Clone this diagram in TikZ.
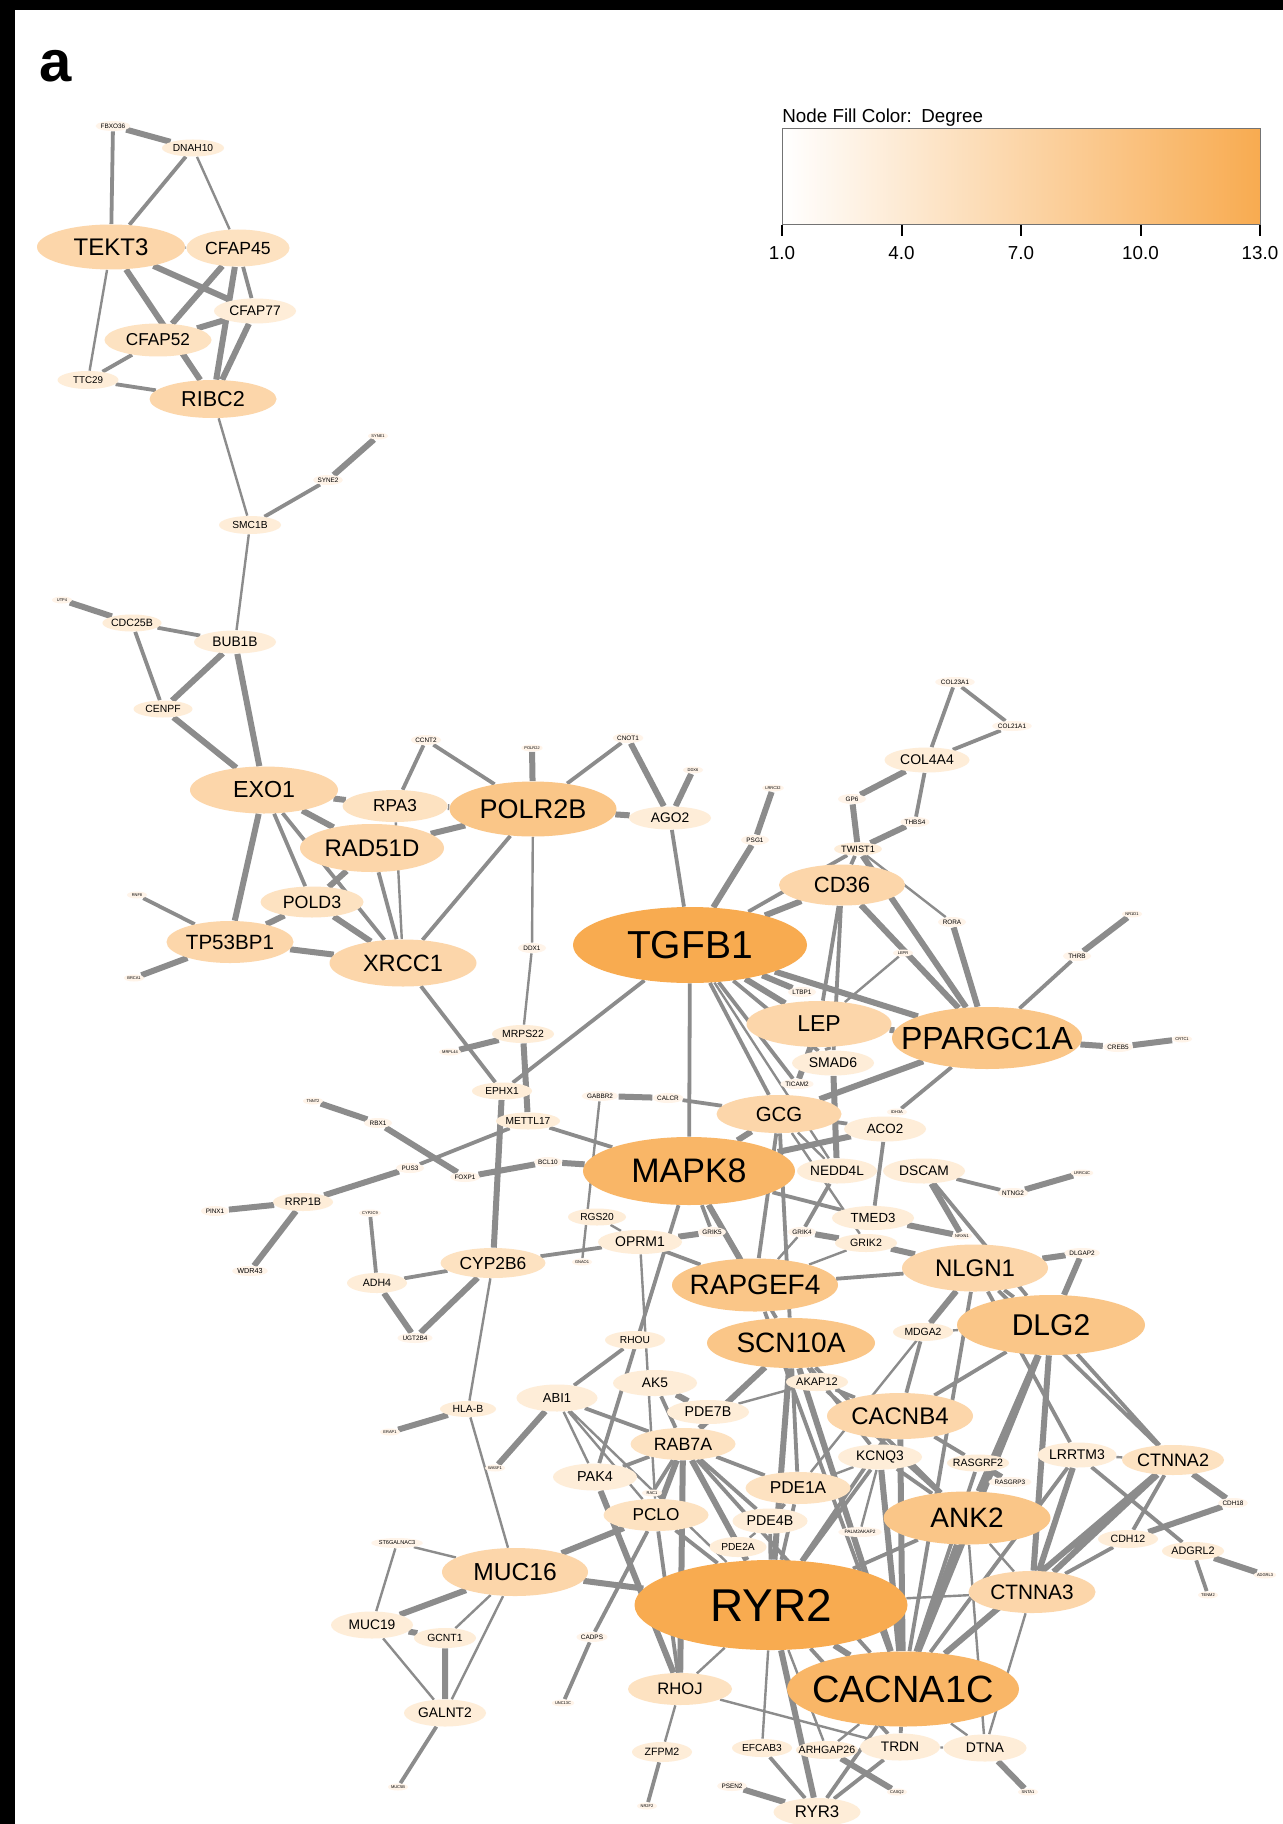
\documentclass[tikz,border=0pt]{standalone}
\usepackage{fontspec}
\setmainfont{Liberation Sans}
\usepackage{xcolor}
\usepackage{tikz}
\usetikzlibrary{shapes.geometric,backgrounds,calc}
\definecolor{naranja}{HTML}{F8AB50}
\definecolor{crema}{HTML}{FFFAF4}
\definecolor{gris}{HTML}{8C8C8C}
\colorlet{gradoA}{naranja}
\colorlet{gradoAB}{naranja!86!crema}
\colorlet{gradoB}{naranja!66!crema}
\colorlet{gradoC}{naranja!45!crema}
\colorlet{gradoD}{naranja!31!crema}
\colorlet{gradoE}{naranja!17!crema}
\colorlet{gradoF}{naranja!7!crema}
\newcommand{\tam}[1]{\fontsize{#1}{#1}\selectfont}
\tikzset{
  gen/.style={ellipse,inner sep=0pt,text=black},
  genA/.style={gen,fill=gradoA},
  genAB/.style={gen,fill=gradoAB},
  genB/.style={gen,fill=gradoB},
  genC/.style={gen,fill=gradoC},
  genD/.style={gen,fill=gradoD},
  genE/.style={gen,fill=gradoE},
  genmin/.style={gen,fill=gradoF,minimum width=14pt,minimum height=5pt,font=\tam{3.2}},
  genmicro/.style={gen,fill=gradoF,minimum width=10pt,minimum height=3.5pt,font=\tam{2}},
  arista1/.style={draw=gris,line width=1.2pt},
  arista2/.style={draw=gris,line width=1.9pt},
  arista3/.style={draw=gris,line width=3pt},
}

\begin{document}
\begin{tikzpicture}[x=0.5pt,y=-0.5pt]
  \useasboundingbox (0,0) rectangle (1283,1824);
  \node[font=\bfseries\tam{29},anchor=base] (panel) at (56,82) {a};
  % leyenda de grado
  \node[font=\tam{9.4},anchor=base west,inner sep=0pt] (titulo) at (782,123) {Node Fill Color:\enspace Degree};
  \node[draw=black!55,line width=0.7pt,left color=white,right color=naranja,minimum width=239pt,minimum height=48pt,inner sep=0pt,anchor=north west] (barra) at (782,128) {};
  \foreach \i/\v in {0/1.0,1/4.0,2/7.0,3/10.0,4/13.0}
    \draw[line width=1pt] ($(barra.south west)+(\i*119.5,0)$) -- ++(0,11)
      node[anchor=north,font=\tam{9.4},inner sep=0pt,yshift=-4.5pt] (marca\i) {\v};

  % cilios
  \node[genmin] (fbxo36) at (113,126) {FBXO36};
  \node[genE,minimum width=31pt,minimum height=8.5pt,font=\tam{5.1}] (dnah10) at (193,148) {DNAH10};
  \node[genC,minimum width=74pt,minimum height=22.5pt,font=\tam{12}] (tekt3) at (111,247) {TEKT3};
  \node[genD,minimum width=51.5pt,minimum height=18.5pt,font=\tam{8.8}] (cfap45) at (238,248) {CFAP45};
  \node[genE,minimum width=41pt,minimum height=12.5pt,font=\tam{6.9}] (cfap77) at (255,311) {CFAP77};
  \node[genD,minimum width=53.5pt,minimum height=16.5pt,font=\tam{8.6}] (cfap52) at (158,340) {CFAP52};
  \node[genE,minimum width=30.5pt,minimum height=9pt,font=\tam{4.9}] (ttc29) at (88,380) {TTC29};
  \node[genC,minimum width=63.5pt,minimum height=19pt,font=\tam{10.8}] (ribc2) at (213,399) {RIBC2};
  \node[genmicro] (syne1) at (378,436) {SYNE1};
  \node[genmin] (syne2) at (328,480) {SYNE2};
  \node[genE,minimum width=31pt,minimum height=9pt,font=\tam{5.1}] (smc1b) at (250,525) {SMC1B};
  \node[genmicro] (utp4) at (62,600) {UTP4};
  \node[genE,minimum width=29pt,minimum height=8.5pt,font=\tam{5.3}] (cdc25b) at (132,623) {CDC25B};
  \node[genE,minimum width=41pt,minimum height=11.5pt,font=\tam{6.9}] (bub1b) at (235,642) {BUB1B};
  \node[genE,minimum width=29.5pt,minimum height=8.5pt,font=\tam{5.2}] (cenpf) at (163,709) {CENPF};

  % reparacion del ADN
  \node[genC,minimum width=74pt,minimum height=23.5pt,font=\tam{11.6}] (exo1) at (264,790) {EXO1};
  \node[genmin] (ccnt2) at (426,740) {CCNT2};
  \node[genD,minimum width=52.5pt,minimum height=16pt,font=\tam{8.6}] (rpa3) at (395,806) {RPA3};
  \node[genC,minimum width=72pt,minimum height=24pt,font=\tam{12}] (rad51d) at (372,848) {RAD51D};
  \node[genmicro] (polr2j) at (532,748) {POLR2J};
  \node[genB,minimum width=83.5pt,minimum height=27.5pt,font=\tam{13.5}] (polr2b) at (533,809) {POLR2B};
  \node[genmin] (cnot1) at (628,738) {CNOT1};
  \node[genmicro] (ddx6) at (693,770) {DDX6};
  \node[genE,minimum width=41pt,minimum height=11.5pt,font=\tam{6.9}] (ago2) at (670,818) {AGO2};
  \node[genD,minimum width=51.5pt,minimum height=15.5pt,font=\tam{8.9}] (pold3) at (312,902) {POLD3};
  \node[genmicro] (rnf8) at (137,895) {RNF8};
  \node[genC,minimum width=63.5pt,minimum height=21pt,font=\tam{10.3}] (tp53bp1) at (230,942) {TP53BP1};
  \node[genmicro] (brca1) at (134,978) {BRCA1};
  \node[genC,minimum width=73.5pt,minimum height=23.5pt,font=\tam{11.8}] (xrcc1) at (403,963) {XRCC1};
  \node[genmin] (ddx1) at (532,948) {DDX1};
  \node[genE,minimum width=31pt,minimum height=9pt,font=\tam{5.2}] (mrps22) at (523,1034) {MRPS22};
  \node[genmicro] (mrpl44) at (450,1052) {MRPL44};

  % TGFB1 y PPARGC1A
  \node[genA,minimum width=117pt,minimum height=38pt,font=\tam{19.5}] (tgfb1) at (690,945) {TGFB1};
  \node[genmicro] (lrrc32) at (773,788) {LRRC32};
  \node[genmin] (psg1) at (755,840) {PSG1};
  \node[genmin] (gp6) at (852,799) {GP6};
  \node[genE,minimum width=22pt,minimum height=6.5pt,font=\tam{4.6}] (twist1) at (858,849) {TWIST1};
  \node[genC,minimum width=63pt,minimum height=20.5pt,font=\tam{11}] (cd36) at (842,885) {CD36};
  \node[genmin] (col23a1) at (955,682) {COL23A1};
  \node[genmin] (col21a1) at (1012,726) {COL21A1};
  \node[genE,minimum width=42.5pt,minimum height=12.5pt,font=\tam{7}] (col4a4) at (927,760) {COL4A4};
  \node[genmin] (thbs4) at (915,822) {THBS4};
  \node[genmin] (rora) at (952,922) {RORA};
  \node[genmin] (thrb) at (1077,956) {THRB};
  \node[genmicro] (nr1d1) at (1132,914) {NR1D1};
  \node[genmin] (ltbp1) at (802,992) {LTBP1};
  \node[genC,minimum width=72.5pt,minimum height=23pt,font=\tam{11.5}] (lep) at (819,1024) {LEP};
  \node[genB,minimum width=95pt,minimum height=31pt,font=\tam{16}] (ppargc1a) at (987,1038) {\makebox[0pt]{PPARGC1A}};
  \node[genmin] (creb5) at (1118,1047) {CREB5};
  \node[genmicro] (crtc1) at (1182,1039) {CRTC1};
  \node[genmicro] (lepr) at (903,953) {LEPR};
  \node[genE,minimum width=41pt,minimum height=12.5pt,font=\tam{7}] (smad6) at (833,1063) {SMAD6};
  \node[genmin] (ticam2) at (797,1084) {TICAM2};

  % MAPK8 y vecinos
  \node[genE,minimum width=30pt,minimum height=8.5pt,font=\tam{5.1}] (ephx1) at (502,1091) {EPHX1};
  \node[genE,minimum width=32pt,minimum height=8.5pt,font=\tam{5.1}] (mettl17) at (528,1121) {\makebox[0pt]{METTL17}};
  \node[genmin] (gabbr2) at (600,1096) {GABBR2};
  \node[genmin] (calcr) at (668,1098) {CALCR};
  \node[genC,minimum width=62.5pt,minimum height=19pt,font=\tam{10.2}] (gcg) at (779,1114) {GCG};
  \node[genmicro] (idh3a) at (897,1112) {IDH3A};
  \node[genE,minimum width=41pt,minimum height=12.5pt,font=\tam{6.7}] (aco2) at (885,1129) {ACO2};
  \node[genmicro] (tnnt2) at (313,1101) {TNNT2};
  \node[genmin] (rbx1) at (378,1123) {RBX1};
  \node[genmin] (pus3) at (410,1168) {PUS3};
  \node[genmin] (foxp1) at (465,1177) {FOXP1};
  \node[genmin] (bcl10) at (548,1162) {BCL10};
  \node[genAB,minimum width=106pt,minimum height=34pt,font=\tam{17}] (mapk8) at (689,1171) {MAPK8};
  \node[genE,minimum width=40pt,minimum height=12.5pt,font=\tam{6.8}] (nedd4l) at (837,1171) {NEDD4L};
  \node[genE,minimum width=41pt,minimum height=12.5pt,font=\tam{6.9}] (dscam) at (924,1171) {DSCAM};
  \node[genmin] (ntng2) at (1013,1193) {NTNG2};
  \node[genmicro] (lrrc4c) at (1082,1173) {LRRC4C};
  \node[genE,minimum width=30pt,minimum height=9pt,font=\tam{5.4}] (rrp1b) at (303,1202) {RRP1B};
  \node[genmin] (pinx1) at (215,1211) {PINX1};
  \node[genmicro] (cyp2c9) at (370,1213) {CYP2C9};
  \node[genmin,font=\tam{3.6}] (wdr43) at (250,1271) {WDR43};
  \node[genE,minimum width=29pt,minimum height=8.5pt,font=\tam{5.1}] (rgs20) at (597,1217) {RGS20};
  \node[genE,minimum width=42pt,minimum height=12pt,font=\tam{7}] (oprm1) at (640,1242) {OPRM1};
  \node[genmin] (grik5) at (712,1232) {GRIK5};
  \node[genmin] (grik4) at (802,1232) {GRIK4};
  \node[genE,minimum width=41pt,minimum height=12pt,font=\tam{6.6}] (tmed3) at (873,1218) {TMED3};
  \node[genE,minimum width=31pt,minimum height=9pt,font=\tam{5.3}] (grik2) at (866,1243) {GRIK2};
  \node[genmicro] (nrxn1) at (962,1236) {NRXN1};
  \node[genC,minimum width=73pt,minimum height=23.5pt,font=\tam{12}] (nlgn1) at (975,1268) {NLGN1};
  \node[genmin] (dlgap2) at (1082,1253) {DLGAP2};
  \node[genmicro] (gnao1) at (582,1262) {GNAO1};
  \node[genD,minimum width=52.5pt,minimum height=15pt,font=\tam{8.7}] (cyp2b6) at (493,1263) {CYP2B6};
  \node[genE,minimum width=30pt,minimum height=10pt,font=\tam{5.3}] (adh4) at (377,1283) {ADH4};
  \node[genB,minimum width=83pt,minimum height=26.5pt,font=\tam{14}] (rapgef4) at (755,1285) {\makebox[0pt]{RAPGEF4}};
  \node[genB,minimum width=94pt,minimum height=30pt,font=\tam{15}] (dlg2) at (1051,1325) {DLG2};
  \node[genE,minimum width=30pt,minimum height=9pt,font=\tam{5.2}] (mdga2) at (923,1332) {MDGA2};
  \node[genmin] (ugt2b4) at (415,1338) {UGT2B4};
  \node[genE,minimum width=30pt,minimum height=9pt,font=\tam{5.1}] (rhou) at (635,1340) {RHOU};
  \node[genB,minimum width=84pt,minimum height=25pt,font=\tam{14}] (scn10a) at (791,1343) {SCN10A};

  % RYR2 y canales
  \node[genE,minimum width=42pt,minimum height=13pt,font=\tam{6.9}] (ak5) at (655,1383) {AK5};
  \node[genE,minimum width=31pt,minimum height=9pt,font=\tam{5.5}] (akap12) at (817,1382) {AKAP12};
  \node[genE,minimum width=40.5pt,minimum height=13.5pt,font=\tam{6.5}] (abi1) at (557,1398) {ABI1};
  \node[genE,minimum width=28pt,minimum height=8pt,font=\tam{5.2}] (hlab) at (468,1409) {HLA-B};
  \node[genE,minimum width=41pt,minimum height=12pt,font=\tam{7.1}] (pde7b) at (708,1412) {PDE7B};
  \node[genC,minimum width=73pt,minimum height=23pt,font=\tam{12}] (cacnb4) at (900,1416) {CACNB4};
  \node[genmicro] (erap1) at (390,1432) {ERAP1};
  \node[genD,minimum width=52.5pt,minimum height=16pt,font=\tam{8.9}] (rab7a) at (683,1444) {RAB7A};
  \node[genE,minimum width=42pt,minimum height=12.5pt,font=\tam{6.9}] (kcnq3) at (880,1457) {KCNQ3};
  \node[genE,minimum width=31pt,minimum height=8.5pt,font=\tam{5.3}] (rasgrf2) at (978,1463) {\makebox[0pt]{RASGRF2}};
  \node[genE,minimum width=39.5pt,minimum height=12.5pt,font=\tam{7}] (lrrtm3) at (1077,1455) {\makebox[0pt]{LRRTM3}};
  \node[genD,minimum width=51pt,minimum height=15pt,font=\tam{9}] (ctnna2) at (1173,1460) {CTNNA2};
  \node[genmicro] (wasf1) at (495,1468) {WASF1};
  \node[genE,minimum width=42pt,minimum height=13.5pt,font=\tam{7.2}] (pak4) at (595,1477) {PAK4};
  \node[genmin] (rasgrp3) at (1010,1482) {RASGRP3};
  \node[genD,minimum width=52.5pt,minimum height=16pt,font=\tam{8.6}] (pde1a) at (798,1488) {PDE1A};
  \node[genmicro] (rac1) at (652,1493) {RAC1};
  \node[genmin] (cdh18) at (1233,1503) {CDH18};
  \node[genD,minimum width=52.5pt,minimum height=16pt,font=\tam{8.6}] (pclo) at (656,1515) {PCLO};
  \node[genE,minimum width=37.5pt,minimum height=12.5pt,font=\tam{7.1}] (pde4b) at (770,1521) {PDE4B};
  \node[genB,minimum width=83.5pt,minimum height=26.5pt,font=\tam{14}] (ank2) at (967,1518) {ANK2};
  \node[genmin,font=\tam{2.4}] (palm2) at (860,1532) {PALM2AKAP2};
  \node[genE,minimum width=30pt,minimum height=9pt,font=\tam{5.3}] (cdh12) at (1128,1539) {CDH12};
  \node[genmin,font=\tam{2.8}] (st6galnac3) at (397,1543) {ST6GALNAC3};
  \node[genE,minimum width=28.5pt,minimum height=10pt,font=\tam{5.1}] (pde2a) at (738,1547) {PDE2A};
  \node[genE,minimum width=31pt,minimum height=9pt,font=\tam{5.4}] (adgrl2) at (1193,1551) {ADGRL2};
  \node[genC,minimum width=73pt,minimum height=24pt,font=\tam{12.3}] (muc16) at (515,1572) {MUC16};
  \node[genmicro] (adgrl3) at (1265,1575) {ADGRL3};
  \node[genC,minimum width=63.5pt,minimum height=21pt,font=\tam{10.4}] (ctnna3) at (1032,1592) {CTNNA3};
  \node[genmicro] (tenm2) at (1208,1595) {TENM2};
  \node[genA,minimum width=136.5pt,minimum height=45pt,font=\tam{23}] (ryr2) at (771,1605) {RYR2};
  \node[genE,minimum width=41pt,minimum height=13.5pt,font=\tam{6.9}] (muc19) at (372,1625) {MUC19};
  \node[genmin] (cadps) at (592,1637) {CADPS};
  \node[genE,minimum width=31pt,minimum height=10pt,font=\tam{5.2}] (gcnt1) at (445,1638) {GCNT1};
  \node[genAB,minimum width=116pt,minimum height=37.5pt,font=\tam{19}] (cacna1c) at (903,1689) {\makebox[0pt]{CACNA1C}};
  \node[genD,minimum width=52pt,minimum height=16pt,font=\tam{8.3}] (rhoj) at (680,1689) {RHOJ};
  \node[genmicro] (unc13c) at (563,1703) {UNC13C};
  \node[genE,minimum width=41pt,minimum height=13.5pt,font=\tam{6.9}] (galnt2) at (445,1713) {GALNT2};
  \node[genE,minimum width=30pt,minimum height=9pt,font=\tam{5.1}] (efcab3) at (762,1748) {EFCAB3};
  \node[genE,minimum width=31pt,minimum height=9pt,font=\tam{5.3}] (arhgap26) at (827,1750) {\makebox[0pt]{ARHGAP26}};
  \node[genE,minimum width=30pt,minimum height=10pt,font=\tam{5.3}] (zfpm2) at (662,1752) {ZFPM2};
  \node[genE,minimum width=40pt,minimum height=13.5pt,font=\tam{6.9}] (trdn) at (900,1747) {TRDN};
  \node[genE,minimum width=41.5pt,minimum height=13.5pt,font=\tam{7}] (dtna) at (985,1748) {DTNA};
  \node[genmin] (psen2) at (732,1786) {PSEN2};
  \node[genmicro] (muc5b) at (398,1787) {MUC5B};
  \node[genmicro] (casq2) at (897,1792) {CASQ2};
  \node[genmicro] (snta1) at (1028,1792) {SNTA1};
  \node[genmicro] (nr2f2) at (647,1806) {NR2F2};
  \node[genE,minimum width=43.5pt,minimum height=14pt,font=\tam{8.4}] (ryr3) at (817,1812) {RYR3};

  \begin{scope}[on background layer]
    \fill[white] (0,0) rectangle (1283,1824);
    \fill[black] (0,0) rectangle (1283,10);
    \fill[black] (0,0) rectangle (15,1824);
    % aristas gruesas
    \draw[arista3] (fbxo36) -- (dnah10) (tekt3) -- (cfap77) (tekt3) -- (ribc2) (cfap45) -- (cfap52) (cfap45) -- (ribc2) (cfap52) -- (cfap77) (cfap77) -- (ribc2)
      (syne1) -- (syne2) (utp4) -- (cdc25b) (bub1b) -- (cenpf) (bub1b) -- (exo1) (cenpf) -- (exo1)
      (exo1) -- (rpa3) (exo1) -- (rad51d) (exo1) -- (tp53bp1) (rpa3) -- (polr2b) (rad51d) -- (polr2b) (rad51d) -- (pold3)
      (pold3) -- (tp53bp1) (pold3) -- (xrcc1) (tp53bp1) -- (xrcc1) (brca1) -- (tp53bp1)
      (polr2b) -- (polr2j) (polr2b) -- (ago2) (cnot1) -- (ago2) (ddx6) -- (ago2) (lrrc32) -- (psg1) (psg1) -- (tgfb1)
      (mrpl44) -- (mrps22) (mrps22) -- (mettl17) (ephx1) -- (cyp2b6)
      (tgfb1) -- (cd36) (tgfb1) -- (ltbp1) (tgfb1) -- (lep) (tgfb1) -- (ppargc1a)
      (gp6) -- (twist1) (gp6) -- (col4a4) (thbs4) -- (twist1) (twist1) -- (ppargc1a) (cd36) -- (ppargc1a) (rora) -- (ppargc1a)
      (thrb) -- (nr1d1) (ppargc1a) -- (creb5) (creb5) -- (crtc1)
      (lep) -- (ppargc1a) (lep) -- (smad6) (lep) -- (ticam2) (gcg) -- (ppargc1a) (gcg) -- (mapk8) (mapk8) -- (aco2) (smad6) -- (nedd4l)
      (mapk8) -- (rapgef4) (mapk8) -- (bcl10) (foxp1) -- (bcl10) (tnnt2) -- (rbx1) (rbx1) -- (foxp1) (pus3) -- (rrp1b) (rrp1b) -- (pinx1) (rrp1b) -- (wdr43)
      (adh4) -- (ugt2b4) (ugt2b4) -- (cyp2b6) (gabbr2) -- (calcr) (oprm1) -- (grik5) (grik4) -- (grik2) (grik2) -- (nlgn1)
      (tmed3) -- (nrxn1) (dscam) -- (nrxn1) (ntng2) -- (lrrc4c)
      (nlgn1) -- (dlgap2) (dlgap2) -- (dlg2) (nlgn1) -- (mdga2) (dlg2) -- (cacna1c) (dlg2) -- (ank2) (dlg2) -- (ctnna3)
      (scn10a) -- (ryr2) (scn10a) -- (cacna1c) (scn10a) -- (rab7a) (ak5) -- (pde7b) (abi1) -- (wasf1) (hlab) -- (erap1) (cacnb4) -- (cacna1c)
      (rab7a) -- (pclo) (rab7a) -- (ryr2) (rab7a) -- (rhoj) (pak4) -- (rhoj) (pclo) -- (muc16) (kcnq3) -- (cacna1c) (rasgrf2) -- (rasgrp3) (ank2) -- (cacna1c)
      (lrrtm3) -- (ctnna3) (ctnna2) -- (cdh18) (ctnna2) -- (ctnna3) (ctnna2) -- (cacna1c) (cdh18) -- (cdh12) (adgrl2) -- (adgrl3)
      (muc16) -- (ryr2) (muc16) -- (muc19) (muc19) -- (gcnt1) (gcnt1) -- (galnt2) (ryr2) -- (cacna1c) (ryr2) -- (ryr3) (psen2) -- (ryr3)
      (arhgap26) -- (casq2) (dtna) -- (snta1);
    % aristas medias
    \draw[arista2] (fbxo36) -- (tekt3) (dnah10) -- (tekt3) (cfap45) -- (cfap77) (cfap52) -- (ttc29) (ttc29) -- (ribc2) (syne2) -- (smc1b)
      (cdc25b) -- (bub1b) (cdc25b) -- (cenpf)
      (exo1) -- (pold3) (exo1) -- (xrcc1) (ccnt2) -- (rpa3) (ccnt2) -- (polr2b) (rad51d) -- (xrcc1) (rnf8) -- (tp53bp1) (polr2b) -- (xrcc1) (polr2b) -- (cnot1)
      (ago2) -- (tgfb1) (xrcc1) -- (ephx1) (tgfb1) -- (ephx1) (tgfb1) -- (mapk8) (tgfb1) -- (twist1) (tgfb1) -- (smad6) (tgfb1) -- (gcg) (tgfb1) -- (ticam2)
      (col23a1) -- (col21a1) (col23a1) -- (col4a4) (col21a1) -- (col4a4) (col4a4) -- (thbs4) (twist1) -- (cd36) (cd36) -- (lep) (cd36) -- (smad6)
      (thrb) -- (ppargc1a) (ppargc1a) -- (idh3a)
      (gcg) -- (calcr) (gcg) -- (aco2) (gcg) -- (rapgef4) (gcg) -- (scn10a) (mapk8) -- (tmed3) (mapk8) -- (grik5) (mapk8) -- (mettl17) (mapk8) -- (pak4) (mapk8) -- (scn10a)
      (pus3) -- (mettl17) (aco2) -- (tmed3) (nedd4l) -- (grik4) (oprm1) -- (rapgef4) (oprm1) -- (cyp2b6) (adh4) -- (cyp2b6) (cyp2c9) -- (adh4) (galnt2) -- (muc5b)
      (dscam) -- (ntng2) (dscam) -- (dlg2) (nlgn1) -- (dlg2) (nlgn1) -- (rapgef4) (nlgn1) -- (cacna1c) (nlgn1) -- (lrrtm3) (nlgn1) -- (ctnna2)
      (mdga2) -- (cacnb4) (dlg2) -- (cacnb4) (dlg2) -- (ctnna2)
      (rapgef4) -- (cacna1c) (scn10a) -- (pde1a) (scn10a) -- (ank2) (scn10a) -- (kcnq3) (rhou) -- (abi1) (ak5) -- (rab7a) (abi1) -- (rab7a)
      (akap12) -- (cacnb4) (akap12) -- (ank2) (cacnb4) -- (ryr2) (cacnb4) -- (rasgrf2)
      (rab7a) -- (pak4) (rab7a) -- (pde1a) (rab7a) -- (pde4b) (rab7a) -- (rac1) (rab7a) -- (cacna1c) (pclo) -- (ryr2) (pclo) -- (rhoj) (pclo) -- (cadps) (cadps) -- (unc13c)
      (pde1a) -- (ryr2) (pde1a) -- (pde4b) (pde4b) -- (ryr2) (kcnq3) -- (ank2) (kcnq3) -- (ryr2) (rasgrf2) -- (cacna1c) (ank2) -- (ryr2)
      (lrrtm3) -- (adgrl2) (lrrtm3) -- (cacna1c) (ctnna2) -- (cdh12) (cdh12) -- (ctnna3) (adgrl2) -- (tenm2)
      (zfpm2) -- (nr2f2) (ryr2) -- (trdn) (efcab3) -- (ryr3) (cacna1c) -- (trdn) (cacna1c) -- (ryr3) (ryr3) -- (trdn);
    % aristas finas
    \draw[arista1] (dnah10) -- (cfap45) (tekt3) -- (cfap45) (tekt3) -- (ttc29) (ribc2) -- (smc1b) (smc1b) -- (bub1b) (rpa3) -- (xrcc1) (polr2b) -- (ddx1) (ddx1) -- (mrps22)
      (twist1) -- (rora) (lepr) -- (lep) (tgfb1) -- (nedd4l) (gcg) -- (grik2) (gcg) -- (nedd4l) (gabbr2) -- (gnao1) (rgs20) -- (oprm1) (grik2) -- (rapgef4) (grik4) -- (rapgef4) (mdga2) -- (dlg2)
      (scn10a) -- (akap12) (pde7b) -- (akap12) (hlab) -- (cyp2b6) (hlab) -- (muc16) (abi1) -- (pclo) (abi1) -- (pak4) (abi1) -- (ryr2) (oprm1) -- (pclo) (nlgn1) -- (pde1a)
      (pde1a) -- (kcnq3) (pde4b) -- (pde2a) (pde2a) -- (ryr2) (kcnq3) -- (palm2)
      (ank2) -- (ctnna3) (ank2) -- (dtna) (lrrtm3) -- (ctnna2) (ctnna3) -- (ryr2) (ctnna3) -- (dtna) (muc16) -- (st6galnac3) (st6galnac3) -- (muc19) (muc16) -- (gcnt1) (muc16) -- (galnt2) (muc19) -- (galnt2)
      (rhoj) -- (zfpm2) (rhoj) -- (ryr2) (rhoj) -- (trdn) (ryr2) -- (efcab3) (ryr2) -- (arhgap26) (cacna1c) -- (arhgap26) (cacna1c) -- (dtna) (trdn) -- (dtna);
  \end{scope}
\end{tikzpicture}
\end{document}
